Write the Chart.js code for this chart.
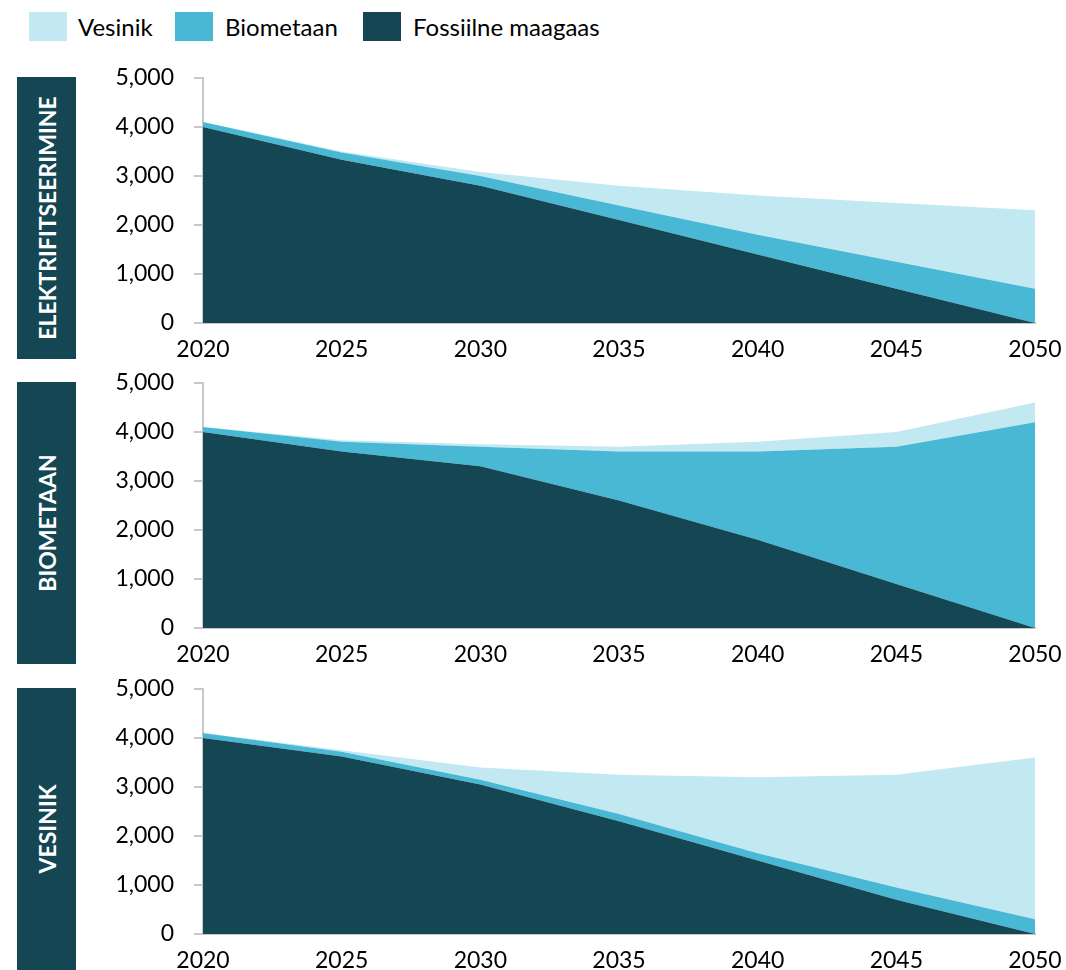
<!DOCTYPE html>
<html>
<head>
<meta charset="utf-8">
<script src="https://cdn.jsdelivr.net/npm/chart.js@4.4.1/dist/chart.umd.min.js"></script>
<style>
  html, body { margin: 0; padding: 0; background: #ffffff; }
  body { width: 1066px; height: 970px; position: relative; overflow: hidden; font-family: Lato, "Open Sans", sans-serif; }
  .lg-box { position: absolute; top: 12px; width: 38px; height: 29px; }
  .lg-text { position: absolute; top: 11px; height: 31px; line-height: 31px; font-size: 24px; color: #000; white-space: nowrap; }
  .side { position: absolute; left: 17px; width: 59px; height: 282px; background: #144653; }
  .side span { position: absolute; left: 50%; top: 50%; transform: translate(-50%, -50%) rotate(-90deg); color: #fff; font-weight: bold; font-size: 23px; white-space: nowrap; }
  canvas { position: absolute; }
</style>
</head>
<body>
<div id="legend"></div>
<div class="side" style="top:77px"><span>ELEKTRIFITSEERIMINE</span></div>
<div class="side" style="top:382px"><span>BIOMETAAN</span></div>
<div class="side" style="top:688px"><span>VESINIK</span></div>
<canvas id="c1"></canvas>
<canvas id="c2"></canvas>
<canvas id="c3"></canvas>
<script>
// ---- Data ----
const years = ['2020', '2025', '2030', '2035', '2040', '2045', '2050'];
const seriesNames = ['Vesinik', 'Biometaan', 'Fossiilne maagaas'];
const panelTitles = ['ELEKTRIFITSEERIMINE', 'BIOMETAAN', 'VESINIK'];
const yTicks = [0, 1000, 2000, 3000, 4000, 5000];

// Scenario: Elektrifitseerimine
const fossil1 = [4000, 3330, 2800, 2100, 1400, 700, 0];
const bio1    = [100, 150, 200, 300, 400, 550, 700];
const ves1    = [0, 20, 80, 400, 800, 1200, 1600];
// Scenario: Biometaan
const fossil2 = [4000, 3600, 3300, 2600, 1800, 900, 0];
const bio2    = [100, 200, 400, 1000, 1800, 2800, 4200];
const ves2    = [0, 30, 50, 100, 200, 300, 400];
// Scenario: Vesinik
const fossil3 = [4000, 3620, 3050, 2300, 1500, 700, 0];
const bio3    = [100, 100, 100, 150, 150, 250, 300];
const ves3    = [0, 30, 250, 800, 1550, 2300, 3300];

// ---- Styles ----
const colVes = '#C2E8F1';
const colBio = '#48B8D4';
const colFos = '#144653';
const axisCol = '#c8c8c8';
const FONT = 'Lato';

// Legend (HTML)
const legendDef = [
  { name: seriesNames[0], col: colVes, bx: 29, tx: 78 },
  { name: seriesNames[1], col: colBio, bx: 175, tx: 225 },
  { name: seriesNames[2], col: colFos, bx: 363, tx: 413 }
];
const lg = document.getElementById('legend');
legendDef.forEach(d => {
  const b = document.createElement('div');
  b.className = 'lg-box'; b.style.left = d.bx + 'px'; b.style.background = d.col;
  const t = document.createElement('div');
  t.className = 'lg-text'; t.style.left = d.tx + 'px'; t.textContent = d.name;
  lg.appendChild(b); lg.appendChild(t);
});

const AREA_H = 245;
const PAD_TOP = 34;
const PAD_RIGHT = 41;
const X_AXIS_H = 40;
const CANVAS_LEFT = 80;
const AREA_RIGHT = 1035;
const CANVAS_W = AREA_RIGHT + PAD_RIGHT - CANVAS_LEFT;
const Y_AXIS_W = 203 - CANVAS_LEFT;

function makeChart(id, areaTop, fossil, bio, ves) {
  const cv = document.getElementById(id);
  const h = PAD_TOP + AREA_H + X_AXIS_H;
  cv.style.left = CANVAS_LEFT + 'px';
  cv.style.top = (areaTop - PAD_TOP) + 'px';
  cv.width = CANVAS_W; cv.height = h;
  cv.style.width = CANVAS_W + 'px'; cv.style.height = h + 'px';
  return new Chart(cv, {
    type: 'line',
    data: {
      labels: years,
      datasets: [
        { label: seriesNames[2], data: fossil, backgroundColor: colFos, borderWidth: 0, pointRadius: 0, fill: 'origin', tension: 0 },
        { label: seriesNames[1], data: bio, backgroundColor: colBio, borderWidth: 0, pointRadius: 0, fill: '-1', tension: 0 },
        { label: seriesNames[0], data: ves, backgroundColor: colVes, borderWidth: 0, pointRadius: 0, fill: '-1', tension: 0 }
      ]
    },
    options: {
      responsive: false,
      animation: false,
      devicePixelRatio: 1,
      layout: { padding: { top: PAD_TOP, right: PAD_RIGHT, left: 0, bottom: 0 } },
      plugins: { legend: { display: false }, tooltip: { enabled: false } },
      scales: {
        x: {
          type: 'category',
          offset: false,
          grid: { display: false, drawTicks: false },
          border: { display: true, color: axisCol, width: 2 },
          ticks: { color: '#000', font: { family: FONT, size: 23 }, padding: 13, maxRotation: 0, autoSkip: false },
          afterFit: s => { s.height = X_AXIS_H; }
        },
        y: {
          stacked: true,
          min: 0, max: 5000,
          afterBuildTicks: s => { s.ticks = yTicks.map(v => ({ value: v })); },
          grid: { display: true, drawOnChartArea: false, drawTicks: true, tickLength: 9, color: axisCol, lineWidth: 2 },
          border: { display: true, color: axisCol, width: 2 },
          ticks: { color: '#000', font: { family: FONT, size: 23 }, padding: 20,
                   callback: v => Number(v).toLocaleString('en-US') },
          afterFit: s => { s.width = Y_AXIS_W; }
        }
      }
    }
  });
}

makeChart('c1', 78, fossil1, bio1, ves1);
makeChart('c2', 383, fossil2, bio2, ves2);
makeChart('c3', 689, fossil3, bio3, ves3);
</script>
</body>
</html>
